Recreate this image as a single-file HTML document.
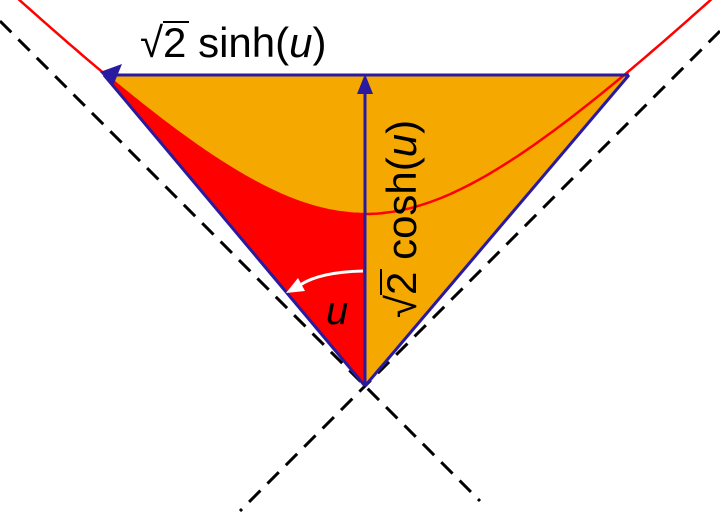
<!DOCTYPE html>
<html><head><meta charset="utf-8"><style>
html,body{margin:0;padding:0;background:#fff;width:720px;height:512px;overflow:hidden}
svg{display:block}
text{font-family:"Liberation Sans","DejaVu Sans",sans-serif;fill:#000}
</style></head><body>
<svg id="s" width="720" height="512" viewBox="0 0 720 512" xmlns="http://www.w3.org/2000/svg">
<line x1="0" y1="21" x2="480" y2="501" stroke="#000" stroke-width="3" stroke-dasharray="16,10"/>
<line x1="720" y1="31" x2="240" y2="511" stroke="#000" stroke-width="3" stroke-dasharray="16,10"/>
<polygon points="104,75 629,75 365,386" fill="#f5a800"/>
<path id="red" fill="#ff0000" d=""/>
<path id="hyp" fill="none" stroke="#ff0000" stroke-width="2.5" d=""/>
<line x1="365" y1="386" x2="104" y2="75" stroke="#2a1aa0" stroke-width="3"/>
<line x1="365" y1="386" x2="629" y2="75" stroke="#2a1aa0" stroke-width="3"/>
<line x1="629" y1="75" x2="116" y2="75" stroke="#2a1aa0" stroke-width="3"/>
<line x1="365" y1="386" x2="365" y2="90" stroke="#2a1aa0" stroke-width="3"/>
<polygon points="365,74 357,94 373,94" fill="#2a1aa0"/>
<polygon points="100,72 122,64 113,86" fill="#2a1aa0"/>
<path d="M363,271 Q320,272 300,285" fill="none" stroke="#fff" stroke-width="3"/>
<polygon points="286,293 298,278 305,291" fill="#fff"/>
<text x="140" y="57" font-size="42">√2 sinh(<tspan font-style="italic">u</tspan>)</text>
<line x1="163" y1="22" x2="189" y2="22" stroke="#000" stroke-width="2"/>
<g transform="translate(416,318) rotate(-90)">
<text x="0" y="0" font-size="42">√2 cosh(<tspan font-style="italic">u</tspan>)</text>
<line x1="23" y1="-35" x2="49" y2="-35" stroke="#000" stroke-width="2"/>
</g>
<text x="326" y="324" font-size="40" font-style="italic">u</text>
</svg>
<script>
var ox=365,oy=386,a=172;
function pt(x){return [ox+x, oy-Math.sqrt(a*a+x*x)];}
var d="";
for(var x=-380;x<=380;x+=4){var p=pt(x);d+=(d?"L":"M")+p[0].toFixed(1)+","+p[1].toFixed(1);}
document.getElementById("hyp").setAttribute("d",d);
var r="M365,386L104,75";
for(var x=-261;x<=0;x+=3){var p=pt(x);r+="L"+p[0].toFixed(1)+","+p[1].toFixed(1);}
r+="Z";
document.getElementById("red").setAttribute("d",r);
</script>
</body></html>
